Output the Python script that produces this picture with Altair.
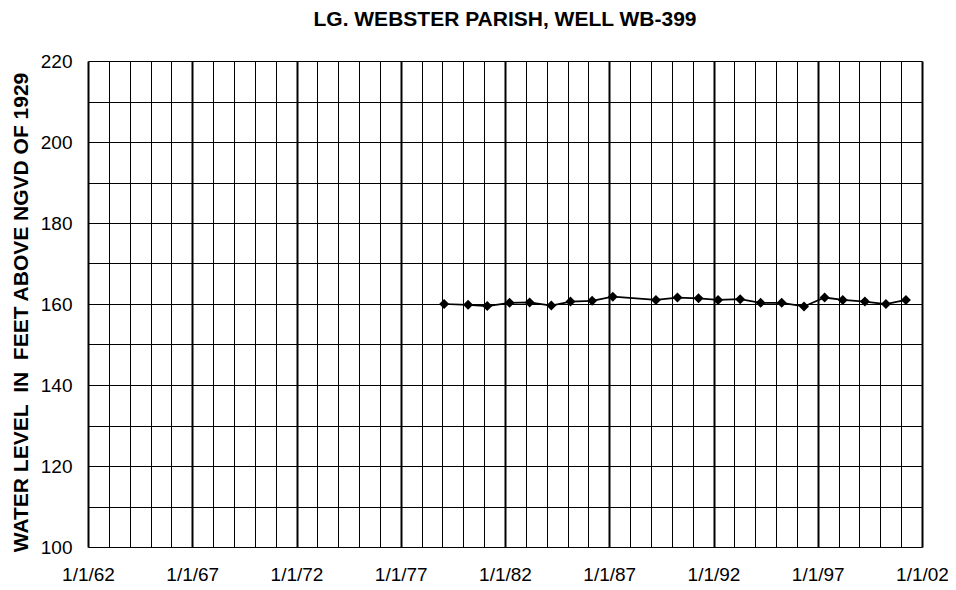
import altair as alt
import pandas as pd

# Measurement dates (decimal years) and water levels (ft above NGVD 1929)
years = [1979.08, 1980.23, 1981.15, 1982.22, 1983.18, 1984.22, 1985.14, 1986.18,
         1987.17, 1989.24, 1990.27, 1991.28, 1992.22, 1993.28, 1994.26, 1995.27,
         1996.34, 1997.33, 1998.20, 1999.26, 2000.27, 2001.23]
levels = [160.0, 159.8, 159.5, 160.3, 160.4, 159.6, 160.6, 160.8,
          161.8, 161.0, 161.6, 161.4, 161.0, 161.2, 160.3, 160.3,
          159.4, 161.6, 161.0, 160.6, 160.0, 161.0]

x_grid_years = list(range(1962, 2003))
y_grid_values = list(range(100, 221, 10))

df = pd.DataFrame({"year": years, "level": levels})

FONT = "Liberation Sans"

x_axis = alt.Axis(
    values=x_grid_years,
    labelExpr="datum.value % 5 == 2 ? '1/1/' + substring(toString(datum.value), 2, 4) : ''",
    labelOverlap=False, labelFlush=False,
    labelFont=FONT, labelFontSize=19, labelColor="black",
    labelPadding=18,
    ticks=False, domain=False,
    grid=True, gridColor="black",
    gridWidth={"condition": {"test": "datum.value % 5 == 2", "value": 2}, "value": 1},
    gridOpacity=1,
    title=None,
)

y_axis = alt.Axis(
    values=y_grid_values,
    labelExpr="datum.value % 20 == 0 ? toString(datum.value) : ''",
    labelOverlap=False, labelFlush=False,
    labelFont=FONT, labelFontSize=19, labelColor="black",
    labelPadding=16,
    ticks=False, domain=False,
    grid=True, gridColor="black", gridWidth=1, gridOpacity=1,
    title="WATER LEVEL\u00a0 IN\u00a0 FEET ABOVE NGVD OF 1929",
    titleFont=FONT, titleFontSize=21, titleFontWeight="bold", titleColor="black",
    titleAngle=-90, titleX=-67, titleY=251, titleAlign="center", titleBaseline="middle",
)

chart = alt.Chart(df).mark_line(
    color="black", strokeWidth=1.75,
    point=alt.OverlayMarkDef(shape="diamond", filled=True, size=100, color="black", opacity=1),
).encode(
    x=alt.X("year:Q", scale=alt.Scale(domain=[1962, 2002], nice=False, zero=False), axis=x_axis),
    y=alt.Y("level:Q", scale=alt.Scale(domain=[100, 220], nice=False, zero=False), axis=y_axis),
).properties(
    width=834,
    height=486,
    title=alt.TitleParams(
        "LG. WEBSTER PARISH, WELL WB-399",
        font=FONT, fontSize=21, fontWeight="bold", color="black",
        anchor="middle", baseline="alphabetic", offset=5,
    ),
    autosize=alt.AutoSizeParams(type="none"),
    padding={"left": 80, "top": 53, "right": 26, "bottom": 36},
).configure_view(
    stroke="black", strokeWidth=2,
).configure(background="white")

chart.save("out.html", embed_options={"renderer": "svg", "actions": False})
